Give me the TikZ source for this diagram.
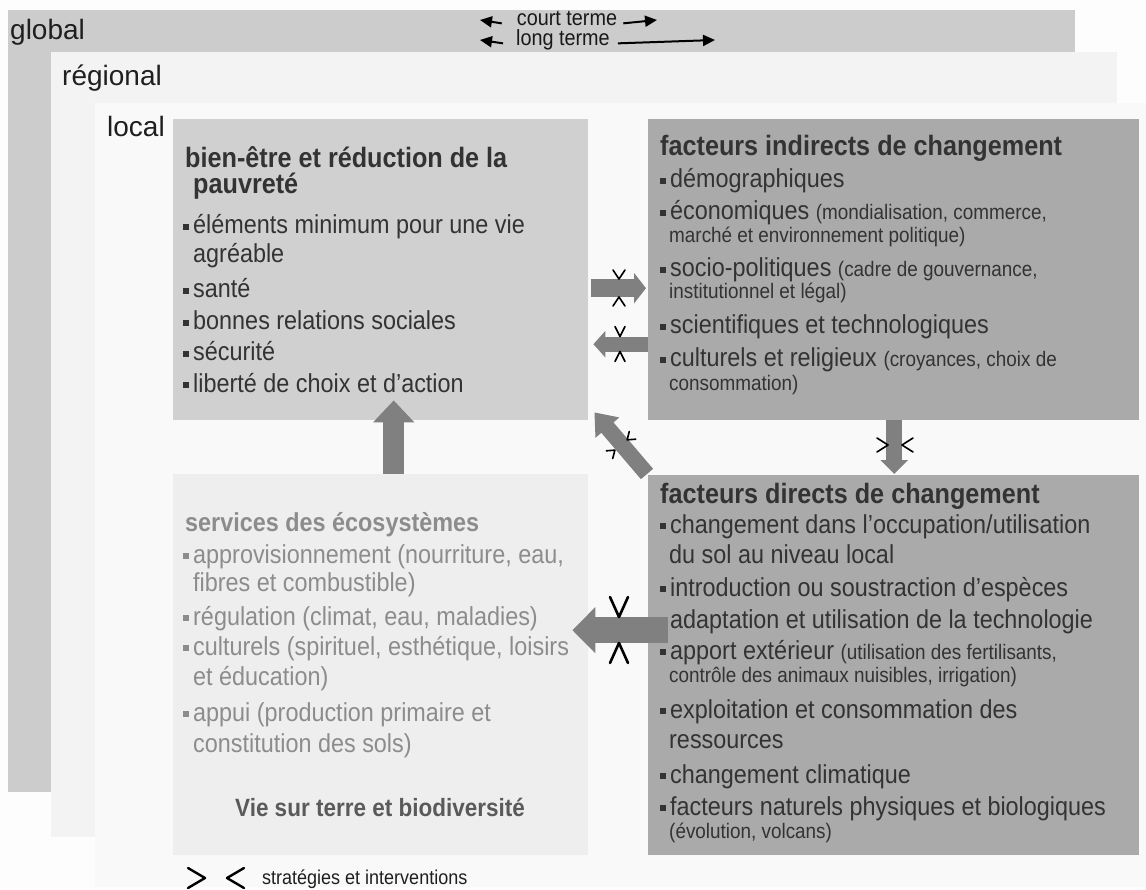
\documentclass[tikz,border=0pt]{standalone}
\usepackage{fontspec}
\setmainfont{Liberation Sans}[FakeStretch=0.9]
\newfontfamily\plainsans{Liberation Sans}
\usetikzlibrary{arrows.meta,calc}
\definecolor{bgc}{HTML}{FDFDFD}
\definecolor{gpanel}{HTML}{CCCCCC}
\definecolor{rpanel}{HTML}{F3F3F3}
\definecolor{lpanel}{HTML}{F9F9F9}
\definecolor{boxA}{HTML}{D0D0D0}
\definecolor{boxB}{HTML}{AAAAAA}
\definecolor{boxC}{HTML}{EEEEEE}
\definecolor{arr}{HTML}{808080}
\definecolor{tdark}{HTML}{333333}
\definecolor{tgrey}{HTML}{8C8C8C}
\definecolor{tvie}{HTML}{5A5A5A}
\newcommand\sq{\makebox[10pt][l]{\rule[0.15em]{0.23em}{0.23em}}}
\newcommand\smallf{\fontsize{21}{21}\selectfont}
% strategy marker: x, y, rotation, gap, depth, half width, line width
\newcommand\smark[7]{%
  \begin{scope}[shift={(#1,#2)},rotate=#3]
    \draw[mk=#7] (-#4-#5,-#6) -- (-#4,0) -- (-#4-#5,#6);
    \draw[mk=#7] (#4+#5,-#6) -- (#4,0) -- (#4+#5,#6);
  \end{scope}}
\tikzset{
  box/.style={anchor=north west, inner sep=0pt, draw=none},
  lbl/.style={anchor=base west, inner sep=0pt, text=black!88, font=\plainsans\fontsize{28}{28}\selectfont},
  hdrtext/.style={anchor=base, inner sep=0pt, text=black!90, font=\fontsize{22}{22}\selectfont},
  ttl/.style={anchor=base west, inner sep=0pt, text=tdark, font=\bfseries\fontsize{28}{28}\selectfont},
  itm/.style={anchor=base west, inner sep=0pt, text=tdark, font=\fontsize{26}{26}\selectfont},
  sml/.style={anchor=base west, inner sep=0pt, text=tdark, font=\fontsize{21}{21}\selectfont},
  gitm/.style={itm, text=tgrey},
  gttl/.style={ttl, text=tgrey, font=\bfseries\fontsize{26}{26}\selectfont},
  blk/.style={draw=arr, line cap=butt},
  mk/.style={line width=#1, line cap=round, line join=round, draw=black},
  mk/.default=2pt,
  hdr/.style={line width=2pt, draw=black, -{Triangle[length=12pt,width=11pt]}},
}
\begin{document}
\begin{tikzpicture}[x=1pt,y=-1pt]
\fill[bgc] (0,0) rectangle (1146,890);
\useasboundingbox (0,0) rectangle (1146,890);
% panels
\node[box, fill=gpanel, minimum width=1067pt, minimum height=782pt] (global) at (8,10) {};
\node[box, fill=rpanel, minimum width=1066pt, minimum height=785pt] (regional) at (51,52) {};
\node[box, fill=lpanel, minimum width=1051pt, minimum height=784pt] (local) at (95,103) {};
\node[lbl] (lglobal) at (10,40) {global};
\node[lbl] (lregional) at (62,86) {régional};
\node[lbl] (llocal) at (107,137) {local};
% header
\node[hdrtext] (ct) at (567,26) {court terme};
\node[hdrtext] (lt) at (563,46) {long terme};
\coordinate (ctl) at (480,20);
\coordinate (ctr) at (657,20);
\coordinate (ltl) at (480,40);
\coordinate (ltr) at (715,40);
\draw[hdr] ([xshift=-15pt]ct.mid west) -- (ctl);
\draw[hdr] ([xshift=6pt]ct.mid east) -- (ctr);
\draw[hdr] ([xshift=-13pt]lt.mid west) -- (ltl);
\draw[hdr] ([xshift=8pt]lt.mid east) -- (ltr);
% boxes
\node[box, fill=boxA, minimum width=415pt, minimum height=301pt] (wb) at (173,119) {};
\node[box, fill=boxB, minimum width=491pt, minimum height=301pt] (fi) at (648,119) {};
\node[box, fill=boxB, minimum width=491pt, minimum height=380pt] (fd) at (648,475) {};
\node[box, fill=boxC, minimum width=415pt, minimum height=381pt] (es) at (173,474) {};
% bien-etre
\node[ttl] (wb1) at (185,168) {bien-être et réduction de la};
\node[ttl] (wb2) at (193,194) {pauvreté};
\node[itm] (wb3) at (183,234) {\sq éléments minimum pour une vie};
\node[itm] (wb4) at (193,263) {agréable};
\node[itm] (wb5) at (183,298) {\sq santé};
\node[itm] (wb6) at (183,330) {\sq bonnes relations sociales};
\node[itm] (wb7) at (183,361) {\sq sécurité};
\node[itm] (wb8) at (183,392) {\sq liberté de choix et d'action};
% facteurs indirects
\node[ttl] (fi1) at (660,156) {facteurs indirects de changement};
\node[itm] (fi2) at (660,188) {\sq démographiques};
\node[itm] (fi3) at (660,220) {\sq économiques {\smallf (mondialisation, commerce,}};
\node[sml] (fi4) at (669,243) {marché et environnement politique)};
\node[itm] (fi5) at (660,277) {\sq socio-politiques {\smallf (cadre de gouvernance,}};
\node[sml] (fi6) at (669,299) {institutionnel et légal)};
\node[itm] (fi7) at (660,334) {\sq scientifiques et technologiques};
\node[itm] (fi8) at (660,367) {\sq culturels et religieux {\smallf (croyances, choix de}};
\node[sml] (fi9) at (669,391) {consommation)};
% facteurs directs
\node[ttl] (fd1) at (660,503) {facteurs directs de changement};
\node[itm] (fd2) at (660,533) {\sq changement dans l'occupation/utilisation};
\node[itm] (fd3) at (669,563) {du sol au niveau local};
\node[itm] (fd4) at (660,596) {\sq introduction ou soustraction d'espèces};
\node[itm] (fd5) at (660,628) {\sq adaptation et utilisation de la technologie};
\node[itm] (fd6) at (660,659) {\sq apport extérieur {\smallf (utilisation des fertilisants,}};
\node[sml] (fd7) at (669,682) {contrôle des animaux nuisibles, irrigation)};
\node[itm] (fd8) at (660,718) {\sq exploitation et consommation des};
\node[itm] (fd9) at (669,748) {ressources};
\node[itm] (fd10) at (660,783) {\sq changement climatique};
\node[itm] (fd11) at (660,815) {\sq facteurs naturels physiques et biologiques};
\node[sml] (fd12) at (669,838) {(évolution, volcans)};
% services
\node[gttl] (es1) at (185,531) {services des écosystèmes};
\node[gitm] (es2) at (183,563) {\sq approvisionnement (nourriture, eau,};
\node[gitm] (es3) at (193,591) {fibres et combustible)};
\node[gitm] (es4) at (183,625) {\sq régulation (climat, eau, maladies)};
\node[gitm] (es5) at (183,655) {\sq culturels (spirituel, esthétique, loisirs};
\node[gitm] (es6) at (193,685) {et éducation)};
\node[gitm] (es7) at (183,721) {\sq appui (production primaire et};
\node[gitm] (es8) at (193,752) {constitution des sols)};
\node[anchor=base, inner sep=0pt, text=tvie, font=\bfseries\fontsize{25}{25}\selectfont] (es9) at (380,816) {Vie sur terre et biodiversité};
% block arrows
\draw[blk, line width=18pt, -{Triangle[length=12pt,width=30pt]}] ($(wb.east)+(3,18.5)$) -- ($(fi.west)+(-2,18.5)$);
\draw[blk, line width=15pt, -{Triangle[length=12pt,width=26pt]}] ($(fi.west)+(0,74.5)$) -- ($(wb.east)+(5,74.5)$);
\draw[blk, line width=16pt, -{Triangle[length=14pt,width=27pt]}] ($(fi.south)+(0.5,0)$) -- ($(fd.north)+(0.5,-1)$);
\draw[blk, line width=21pt, -{Triangle[length=22pt,width=40pt]}] ($(es.north)+(13,0)$) -- ($(wb.south)+(13,-20)$);
\draw[blk, line width=16pt, -{Triangle[length=20pt,width=30pt]}] ($(fd.north west)+(-1,-1)$) -- ($(wb.south east)+(6,-8)$);
\draw[blk, line width=26pt, -{Triangle[length=23pt,width=45pt]}] ($(fd.west)+(20,-35)$) -- ($(es.east)+(-16,-34.5)$);
% strategy markers
\smark{619}{288}{90}{9}{9}{6}{1.6pt}
\smark{620}{344}{90}{7.5}{10}{5}{1.6pt}
\smark{895}{445}{0}{7}{11}{7}{1.6pt}
\smark{621}{445}{40}{8}{7}{5}{1.6pt}
\smark{619}{630}{90}{13}{20}{9}{2.6pt}
% legend
\smark{216}{878}{0}{11}{17}{10}{2.4pt}
\node[anchor=base west, inner sep=0pt, text=black!88, font=\fontsize{20}{20}\selectfont] (leg) at (262,884) {stratégies et interventions};
\end{tikzpicture}
\end{document}
